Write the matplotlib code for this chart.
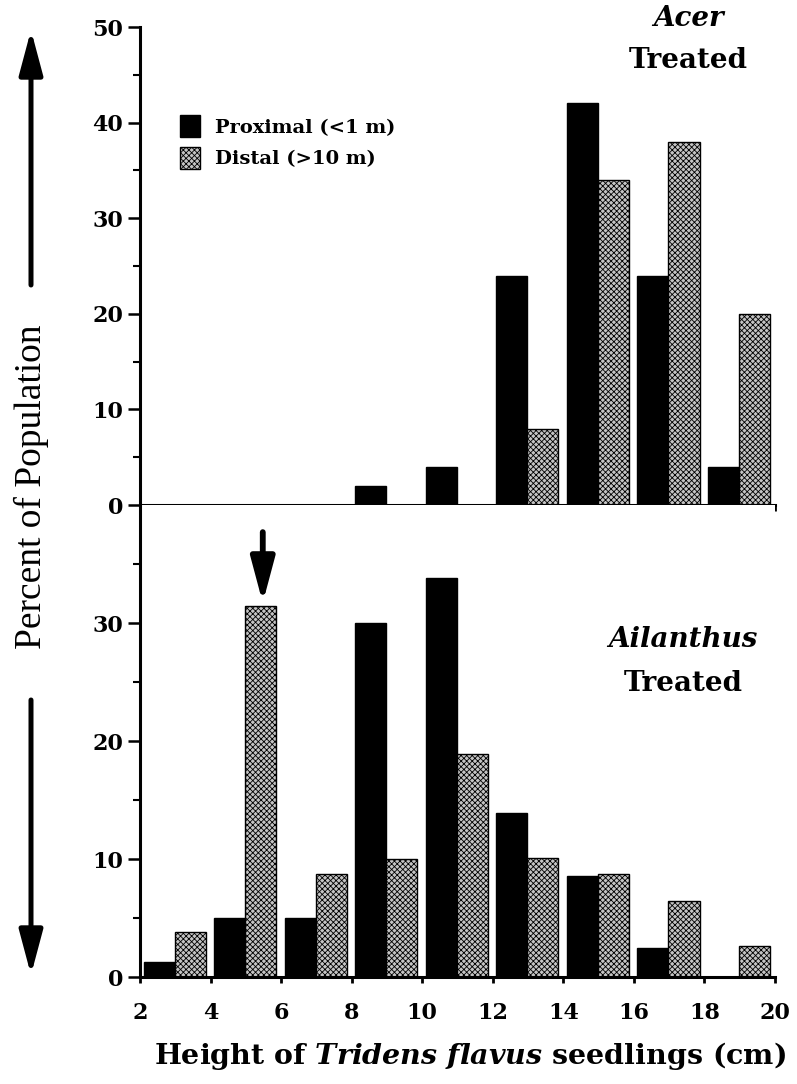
import numpy as np
import matplotlib.pyplot as plt
from matplotlib.patches import Patch, FancyArrowPatch

plt.rcParams['font.family'] = ['DejaVu Serif']
plt.rcParams['font.weight'] = 'bold'
plt.rcParams['hatch.linewidth'] = 0.6
plt.rcParams['mathtext.fontset'] = 'custom'
plt.rcParams['mathtext.rm'] = 'DejaVu Serif:bold'
plt.rcParams['mathtext.it'] = 'DejaVu Serif:bold:italic'

# Height classes (lower edge of each 2 cm class)
bins = [2, 4, 6, 8, 10, 12, 14, 16, 18]

# Percent of population
acer_proximal = [0, 0, 0, 2, 4, 24, 42, 24, 4]
acer_distal = [0, 0, 0, 0, 0, 8, 34, 38, 20]
ail_proximal = [1.3, 5.0, 5.0, 30.0, 33.8, 13.9, 8.6, 2.5, 0]
ail_distal = [3.8, 31.4, 8.7, 10.0, 18.9, 10.1, 8.7, 6.4, 2.6]

x_ticks = [2, 4, 6, 8, 10, 12, 14, 16, 18, 20]
DIST_FACE = '#c4c4c4'


def draw_bars(ax, prox, dist):
    b = np.array(bins, dtype=float)
    ax.bar(b + 0.10, prox, width=0.88, align='edge', color='black',
           edgecolor='black', linewidth=1.0, zorder=2)
    ax.bar(b + 0.98, dist, width=0.88, align='edge', color=DIST_FACE,
           edgecolor='black', hatch='xxxxxx', linewidth=1.0, zorder=2)


def style_axis(ax, ymax, yticks):
    ax.set_xlim(2, 20)
    ax.set_ylim(0, ymax)
    for s in ['top', 'right']:
        ax.spines[s].set_visible(False)
    for s in ['left', 'bottom']:
        ax.spines[s].set_linewidth(2.2)
    ax.set_xticks(x_ticks)
    ax.set_yticks(yticks)
    ax.set_yticks([v + 5 for v in range(0, ymax, 10)], minor=True)
    ax.tick_params(axis='y', which='major', length=9, width=1.8,
                   labelsize=16, pad=3)
    ax.tick_params(axis='y', which='minor', length=5, width=1.5)
    ax.tick_params(axis='x', which='major', length=4, width=2.0,
                   labelsize=16, pad=14)


fig = plt.figure(figsize=(7.97, 10.84), dpi=100)
left, width = 140 / 797, 635 / 797
ax1 = fig.add_axes([left, 1 - 505 / 1084, width, 478 / 1084])
ax2 = fig.add_axes([left, 1 - 977 / 1084, width, 472 / 1084])

draw_bars(ax1, acer_proximal, acer_distal)
draw_bars(ax2, ail_proximal, ail_distal)

style_axis(ax1, 50, [0, 10, 20, 30, 40, 50])
style_axis(ax2, 40, [0, 10, 20, 30])
ax1.tick_params(axis='x', labelbottom=False)

ax2.set_xlabel(r'Height of $\mathit{Tridens\ flavus}$ seedlings (cm)',
               fontsize=20.5, fontweight='bold')
ax2.xaxis.set_label_coords(0.52, -0.133)

# panel titles
ax1.text(17.55, 50.9, 'Acer', style='italic', fontsize=20, ha='center',
         va='center', clip_on=False)
ax1.text(17.55, 46.5, 'Treated', fontsize=20, ha='center', va='center')
ax2.text(17.4, 28.6, 'Ailanthus', style='italic', fontsize=20, ha='center',
         va='center')
ax2.text(17.4, 24.9, 'Treated', fontsize=20, ha='center', va='center')

# legend
handles = [Patch(facecolor='black', edgecolor='black', label='Proximal (<1 m)'),
           Patch(facecolor=DIST_FACE, edgecolor='black', hatch='xxxxxx',
                 label='Distal (>10 m)')]
ax1.legend(handles=handles, loc='upper left', bbox_to_anchor=(0.063, 0.815),
           frameon=False, fontsize=14, handlelength=1.05, handleheight=1.35,
           handletextpad=0.75, labelspacing=0.5, borderpad=0, borderaxespad=0)

# arrow pointing to Ailanthus distal peak
ax2.annotate('', xy=(5.48, 31.7), xytext=(5.48, 37.7),
             arrowprops=dict(arrowstyle='-|>,head_length=27,head_width=7.2',
                             mutation_scale=1, color='black', lw=4.2,
                             shrinkA=0, shrinkB=0))

# y-axis label with long arrows
fig.text(31 / 797, 1 - 487 / 1084, 'Percent of Population', rotation=90,
         family='Liberation Serif', fontweight='normal', fontsize=27,
         ha='center', va='center')
for y0, y1 in [(285, 30), (700, 975)]:
    arr = FancyArrowPatch((31 / 797, 1 - y0 / 1084), (31 / 797, 1 - y1 / 1084),
                          transform=fig.transFigure,
                          arrowstyle='-|>,head_length=27,head_width=7.2',
                          color='black', lw=3.6, mutation_scale=1,
                          shrinkA=0, shrinkB=0)
    fig.add_artist(arr)

fig.savefig('out.png', dpi=100)
